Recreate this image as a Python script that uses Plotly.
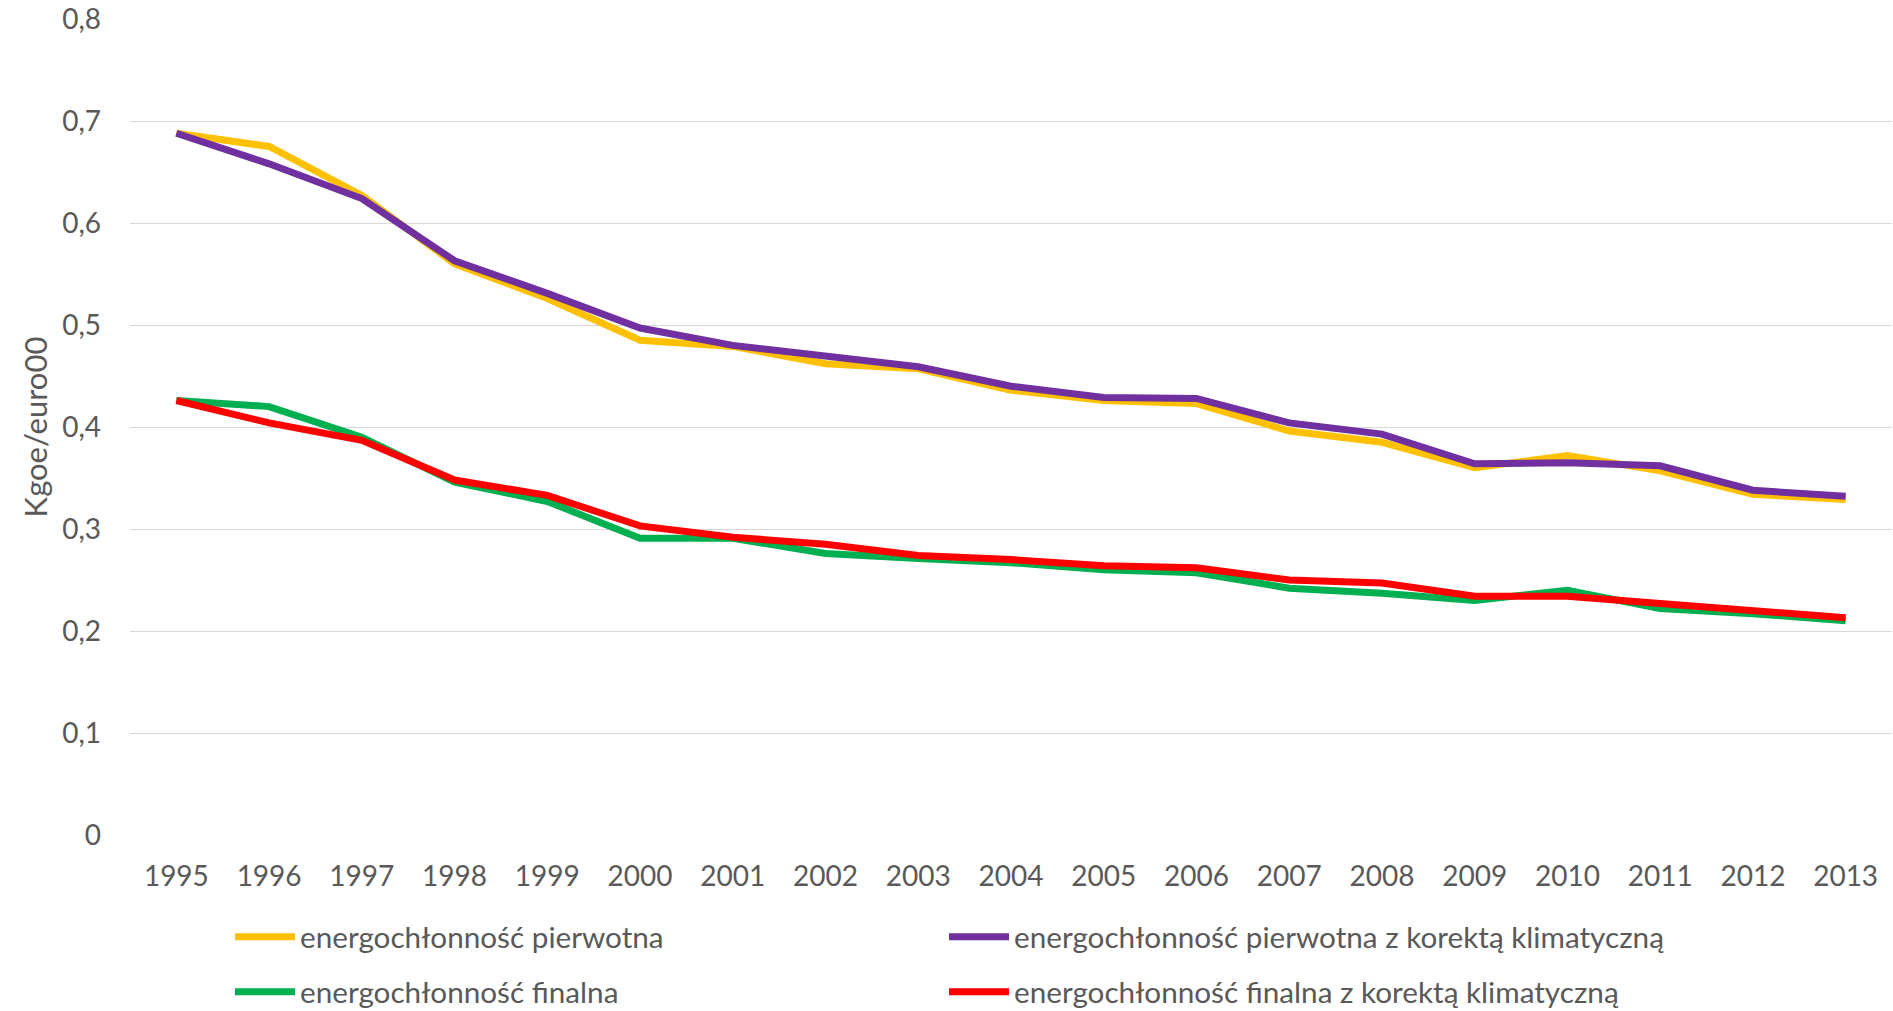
import plotly.graph_objects as go

years = [str(y) for y in range(1995, 2014)]

pierwotna = [0.688, 0.675, 0.627, 0.560, 0.526, 0.485, 0.479, 0.462, 0.457, 0.436,
             0.426, 0.423, 0.396, 0.385, 0.360, 0.372, 0.357, 0.334, 0.329]
pierwotna_kor = [0.688, 0.658, 0.624, 0.563, 0.531, 0.497, 0.480, 0.469, 0.459, 0.440,
                 0.429, 0.428, 0.404, 0.393, 0.364, 0.365, 0.362, 0.338, 0.332]
finalna = [0.426, 0.420, 0.390, 0.346, 0.327, 0.291, 0.291, 0.276, 0.271, 0.267,
           0.260, 0.257, 0.242, 0.237, 0.230, 0.240, 0.222, 0.217, 0.210]
finalna_kor = [0.426, 0.404, 0.387, 0.348, 0.333, 0.303, 0.292, 0.285, 0.274, 0.270,
               0.264, 0.262, 0.250, 0.247, 0.234, 0.234, 0.227, 0.220, 0.213]

series_names = [
    "energochłonność pierwotna",
    "energochłonność pierwotna z korektą klimatyczną",
    "energochłonność finalna",
    "energochłonność finalna z korektą klimatyczną",
]
series_colors = ["#FFC000", "#7030A0", "#00B050", "#FF0000"]
series_values = [pierwotna, pierwotna_kor, finalna, finalna_kor]
legend_ids = ["legend", "legend2", "legend3", "legend4"]

y_tickvals = [0, 0.1, 0.2, 0.3, 0.4, 0.5, 0.6, 0.7, 0.8]
y_ticktext = ["0", "0,1", "0,2", "0,3", "0,4", "0,5", "0,6", "0,7", "0,8"]

FONT = "Lato, 'Open Sans', sans-serif"
TXT = "#595959"
FS = 28
FS_LEG = 29.7
FS_TITLE = 31

fig = go.Figure()
for name, color, vals, lg in zip(series_names, series_colors, series_values, legend_ids):
    fig.add_trace(go.Scatter(
        x=years, y=vals, name=name, mode="lines",
        line=dict(color=color, width=7),
        legend=lg,
    ))

W, H = 1893, 1011
ml, mr, mt, mb = 130, 1, 19, 176
pw, ph = W - ml - mr, H - mt - mb


def px_to_paper(px, py):
    return (px - ml) / pw, (H - mb - py) / ph


legend_pos = [(230, 937), (944, 937), (230, 992), (944, 992)]
legends = {}
for lg, (lx, ly) in zip(legend_ids, legend_pos):
    x, y = px_to_paper(lx, ly)
    legends[lg] = dict(
        x=x, y=y, xanchor="left", yanchor="middle",
        orientation="h", bgcolor="rgba(0,0,0,0)",
        font=dict(family=FONT, size=FS_LEG, color=TXT),
        itemwidth=60,
    )

fig.update_layout(
    width=W, height=H,
    margin=dict(l=ml, r=mr, t=mt, b=mb, autoexpand=False),
    paper_bgcolor="white", plot_bgcolor="white",
    font=dict(family=FONT, size=FS, color=TXT),
    showlegend=True,
    **legends,
)
fig.update_xaxes(
    type="category", range=[-0.5, 18.5],
    showgrid=False, zeroline=False, showline=False,
    ticks="", ticklabelstandoff=22,
    tickfont=dict(family=FONT, size=FS, color=TXT),
)
fig.update_yaxes(
    range=[0, 0.8], tickvals=y_tickvals, ticktext=y_ticktext,
    showgrid=True, gridcolor="#D9D9D9", gridwidth=1.3,
    zeroline=False, showline=False, ticks="", ticklabelstandoff=28,
    tickfont=dict(family=FONT, size=FS, color=TXT),
    title=dict(text="Kgoe/euro00", font=dict(family=FONT, size=FS_TITLE, color=TXT), standoff=5),
)

fig.write_html(
    "out.html",
    config={"displayModeBar": False},
    post_script="document.body.style.margin='0';document.body.style.overflow='hidden';",
)
